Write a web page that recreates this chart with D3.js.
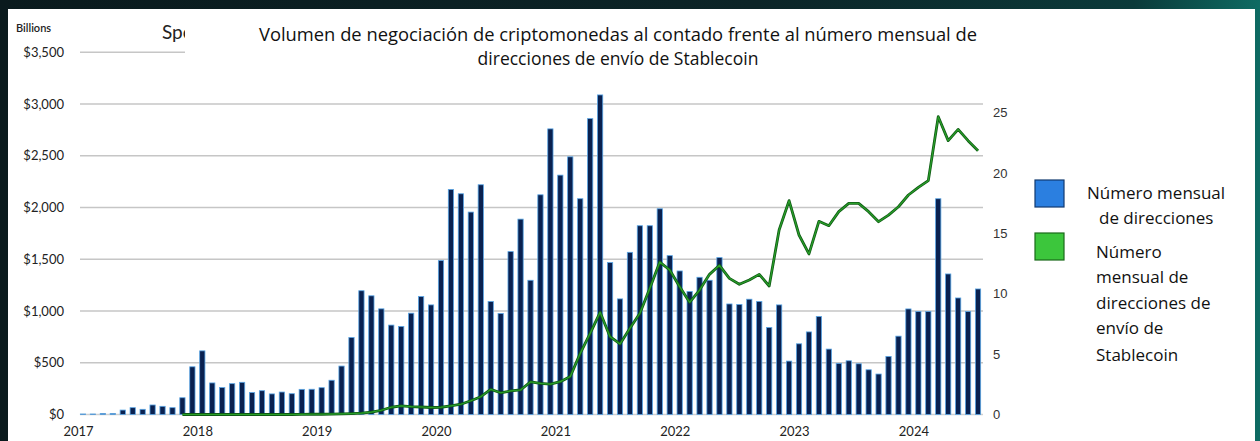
<!DOCTYPE html>
<html>
<head>
<meta charset="utf-8">
<script src="https://cdn.jsdelivr.net/npm/d3@7"></script>
<style>
  html, body { margin: 0; padding: 0; }
  body {
    width: 1260px; height: 441px; overflow: hidden;
    background: linear-gradient(90deg, #0a1a1d 0%, #0c2427 60%, #0b3a3a 90%, #0e6b63 100%);
  }
  svg { display: block; }
</style>
</head>
<body>
<div id="chart"></div>
<script>
// ---- data ----
// one bar per month, Jan 2017 .. Jul 2024, spot volume in $ billions
const years = ["2017", "2018", "2019", "2020", "2021", "2022", "2023", "2024"];
const months = d3.timeMonths(new Date(2017, 0, 1), new Date(2024, 7, 1));

const spotVolume = [
  5, 5, 10, 10, 43, 66, 50, 92, 79, 66, 162, 461,                 // 2017
  615, 305, 260, 298, 311, 212, 230, 199, 217, 201, 243, 244,     // 2018
  259, 331, 468, 744, 1196, 1147, 1021, 864, 851, 979, 1140, 1059, // 2019
  1487, 2175, 2133, 1956, 2220, 1092, 976, 1574, 1888, 1297, 2123, 2760, // 2020
  2313, 2490, 2085, 2859, 3088, 1468, 1117, 1567, 1824, 1824, 1988, 1535, // 2021
  1387, 1188, 1326, 1297, 1516, 1068, 1063, 1114, 1092, 841, 1059, 516,   // 2022
  683, 798, 947, 632, 494, 519, 490, 432, 391, 561, 757, 1020,     // 2023
  995, 995, 2085, 1358, 1126, 995, 1213                            // 2024
];

// stablecoin sending addresses (millions), starts Nov 2017
const stableStart = 10;
const stableAddrs = [
  0, 0,                                                           // 2017
  0, 0, 0, 0, 0, 0, 0, 0, 0, 0, 0.01, 0.02,                       // 2018
  0.02, 0.03, 0.05, 0.08, 0.12, 0.2, 0.35, 0.6, 0.72, 0.65, 0.62, 0.58, // 2019
  0.6, 0.72, 0.85, 1.14, 1.47, 2.08, 1.8, 1.95, 2.03, 2.7, 2.58, 2.52,  // 2020
  2.72, 3.15, 5.06, 6.72, 8.46, 6.44, 5.84, 7.14, 8.38, 10.45, 12.62, 11.96, // 2021
  10.58, 9.29, 10.3, 11.6, 12.35, 11.27, 10.78, 11.13, 11.6, 10.64, 15.27, 17.7, // 2022
  14.86, 13.29, 15.99, 15.63, 16.79, 17.48, 17.48, 16.79, 15.96, 16.51, 17.2, 18.17, // 2023
  18.8, 19.36, 24.65, 22.67, 23.6, 22.67, 21.84                   // 2024
];

const leftTicks = [0, 500, 1000, 1500, 2000, 2500, 3000, 3500];
const rightTicks = [0, 5, 10, 15, 20, 25];

const titleLines = [
  "Volumen de negociación de criptomonedas al contado frente al número mensual de",
  "direcciones de envío de Stablecoin"
];
const legendItems = [
  { color: "#2b7fe0", edge: "#123a70", lines: [["Número mensual", 0], ["de direcciones", 12]] },
  { color: "#3cc63c", edge: "#1a6a1a", lines: [["Número", 9], ["mensual de", 9], ["direcciones de", 9], ["envío de", 9], ["Stablecoin", 9]] }
];

// ---- layout ----
const cfg = {
  width: 1260, height: 441,
  panel: { left: 8, top: 9, right: 1255 },
  margin: { left: 78, right: 277, top: 52, bottom: 26.5 }
};
const x0 = cfg.margin.left, x1 = cfg.width - cfg.margin.right;
const yBase = cfg.height - cfg.margin.bottom;

const xBand = d3.scaleBand()
  .domain(d3.range(months.length))
  .range([x0, x1])
  .paddingInner(0.47)
  .paddingOuter(0.235);

const xLin = d3.scaleLinear().domain([0, months.length]).range([x0, x1]);

const yLeft = d3.scaleLinear().domain([0, 3500]).range([yBase, 52.3]);
const yRight = d3.scaleLinear().domain([0, 25]).range([yBase, 112.5]);

const svg = d3.select("#chart").append("svg")
  .attr("width", cfg.width)
  .attr("height", cfg.height)
  .attr("viewBox", [0, 0, cfg.width, cfg.height]);

// white panel
svg.append("rect")
  .attr("x", cfg.panel.left).attr("y", cfg.panel.top)
  .attr("width", cfg.panel.right - cfg.panel.left)
  .attr("height", cfg.height - cfg.panel.top)
  .attr("fill", "#ffffff");

// grid lines
svg.append("g").attr("class", "grid")
  .selectAll("line")
  .data(leftTicks.filter(d => d > 0))
  .join("line")
  .attr("x1", 80).attr("x2", x1)
  .attr("y1", d => yLeft(d)).attr("y2", d => yLeft(d))
  .style("stroke", "#c6c6c6")
  .style("stroke-width", 1.4);

// baseline
svg.append("line")
  .attr("x1", 80).attr("x2", x1)
  .attr("y1", yBase).attr("y2", yBase)
  .style("stroke", "#d0d0d0").style("stroke-width", 1.4);

// old title peeking out from under the new one
svg.append("text")
  .attr("x", 162).attr("y", 39)
  .attr("font-family", "Lato, 'DejaVu Sans', sans-serif")
  .attr("font-size", 19)
  .attr("fill", "#222")
  .text("Spot");

// white box for the new title
svg.append("rect")
  .attr("x", 185).attr("y", cfg.panel.top)
  .attr("width", 818).attr("height", 68)
  .attr("fill", "#ffffff");

svg.append("g")
  .selectAll("text")
  .data(titleLines)
  .join("text")
  .attr("x", 618)
  .attr("y", (d, i) => 41 + i * 24)
  .attr("text-anchor", "middle")
  .attr("font-family", "'Open Sans', 'Noto Sans', sans-serif")
  .attr("font-size", 17.5)
  .attr("fill", "#111")
  .each(function (d, i) {
    if (i === 0) d3.select(this).attr("textLength", 718).attr("lengthAdjust", "spacingAndGlyphs");
  })
  .text(d => d);

// bars
svg.append("g").attr("class", "bars")
  .selectAll("rect")
  .data(spotVolume)
  .join("rect")
  .attr("x", (d, i) => xBand(i))
  .attr("width", xBand.bandwidth())
  .attr("y", d => yLeft(d))
  .attr("height", d => yBase - yLeft(d))
  .style("fill", "#0a2150")
  .style("stroke", "#5aa6e6")
  .style("stroke-width", 0.8);

// stablecoin line
const line = d3.line()
  .x(d => xBand(d.i) + xBand.bandwidth() / 2)
  .y(d => yRight(d.v))
  .curve(d3.curveLinear);

const lineData = stableAddrs.map((v, k) => ({ i: k + stableStart, v: v }));

svg.append("path")
  .datum(lineData)
  .attr("d", line)
  .style("fill", "none")
  .style("stroke", "#0f5a14")
  .style("stroke-width", 2.8)
  .style("stroke-linejoin", "round");
svg.append("path")
  .datum(lineData)
  .attr("d", line)
  .style("fill", "none")
  .style("stroke", "#2aa02a")
  .style("stroke-width", 1.2)
  .style("stroke-linejoin", "round");

// left axis
const yAxisL = d3.axisLeft(yLeft)
  .tickValues(leftTicks)
  .tickSize(0)
  .tickPadding(0)
  .tickFormat(d => "$" + d3.format(",")(d));

svg.append("g")
  .attr("class", "y-axis-left")
  .attr("transform", `translate(64, 0)`)
  .call(yAxisL)
  .call(g => g.select(".domain").remove())
  .call(g => g.selectAll("text")
    .attr("font-family", "Lato, 'DejaVu Sans', sans-serif")
    .attr("font-size", 13)
    .attr("fill", "#222"));

svg.append("text")
  .attr("x", 16).attr("y", 32)
  .attr("font-family", "Lato, 'DejaVu Sans', sans-serif")
  .attr("font-size", 11)
  .attr("font-weight", 600)
  .attr("fill", "#222")
  .text("Billions");

// right axis
const yAxisR = d3.axisRight(yRight)
  .tickValues(rightTicks)
  .tickSize(0)
  .tickPadding(0);

svg.append("g")
  .attr("class", "y-axis-right")
  .attr("transform", `translate(993, 0)`)
  .call(yAxisR)
  .call(g => g.select(".domain").remove())
  .call(g => g.selectAll("text")
    .attr("font-family", "'Liberation Sans', Arial, sans-serif")
    .attr("font-size", 13)
    .attr("fill", "#333"));

// x axis: year labels sit on the January boundary
const xAxis = d3.axisBottom(xLin)
  .tickValues(years.map((y, i) => i * 12))
  .tickSize(0)
  .tickPadding(0)
  .tickFormat((d, i) => years[i]);

svg.append("g")
  .attr("class", "x-axis")
  .attr("transform", `translate(0, 427)`)
  .call(xAxis)
  .call(g => g.select(".domain").remove())
  .call(g => g.selectAll("text")
    .attr("font-family", "Lato, 'DejaVu Sans', sans-serif")
    .attr("font-size", 13)
    .attr("fill", "#222"));

// legend
const legend = svg.append("g").attr("class", "legend");
const legendY = [180, 233];
const legendTextY = [[199, 224], [258, 283, 309, 334, 361]];

legendItems.forEach((item, k) => {
  legend.append("rect")
    .attr("x", 1035).attr("y", legendY[k])
    .attr("width", 29).attr("height", 27)
    .style("fill", item.color)
    .style("stroke", item.edge)
    .style("stroke-width", 1.2);

  legend.append("g")
    .selectAll("text")
    .data(item.lines)
    .join("text")
    .attr("x", d => 1087 + d[1])
    .attr("y", (d, i) => legendTextY[k][i])
    .attr("font-family", "'Open Sans', 'Noto Sans', sans-serif")
    .attr("font-size", 17)
    .attr("fill", "#111")
    .text(d => d[0]);
});
</script>
</body>
</html>
